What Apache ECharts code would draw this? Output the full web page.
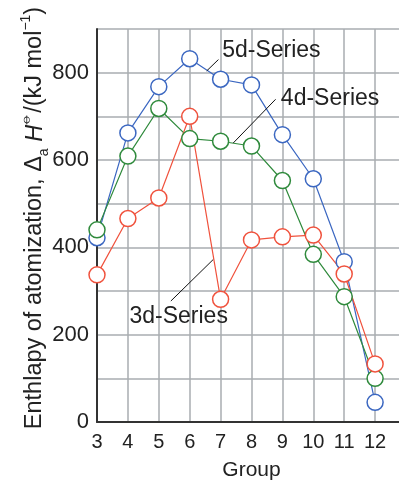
<!DOCTYPE html>
<html>
<head>
<meta charset="utf-8">
<script src="https://cdn.jsdelivr.net/npm/echarts@6/dist/echarts.min.js"></script>
<style>
html,body{margin:0;padding:0;background:#fff;}
#chart{width:399px;height:480px;}
</style>
</head>
<body>
<div id="chart"></div>
<script>
var groups = [3, 4, 5, 6, 7, 8, 9, 10, 11, 12];
var series5d = [422, 662, 768, 832, 785, 772, 658, 557, 367, 45];
var series4d = [440, 609, 718, 649, 643, 632, 553, 384, 287, 100];
var series3d = [337, 466, 513, 700, 281, 417, 424, 428, 339, 133];
var seriesNames = ['5d-Series', '4d-Series', '3d-Series'];
var yTickLabels = [0, 200, 400, 600, 800];

var FONT = "'Liberation Sans', Arial, sans-serif";
var colors = {'5d-Series': '#3b67c1', '4d-Series': '#2f8a3c', '3d-Series': '#f0523d'};

function pairs(vals) { return groups.map(function (g, i) { return [g, vals[i]]; }); }

function mk(name, vals) {
  var c = colors[name];
  return {
    type: 'line', name: name, data: pairs(vals),
    symbol: 'circle', symbolSize: 16,
    lineStyle: {color: c, width: 1.2},
    itemStyle: {color: '#fff', borderColor: c, borderWidth: 1.5},
    emphasis: {disabled: true}, silent: true
  };
}

// annotation anchors in data space: [text, leaderFrom, leaderTo, textPos]
var annotations = [
  ['5d-Series', [6.55, 804], [6.93, 830], [7.05, 850]],
  ['4d-Series', [7.41, 639], [8.78, 739], [8.95, 740]],
  ['3d-Series', [5.39, 277], [6.76, 372], [4.05, 242]]
];

var chart = echarts.init(document.getElementById('chart'), null, {renderer: 'canvas'});
chart.setOption({
  animation: false,
  backgroundColor: '#fff',
  textStyle: {fontFamily: FONT},
  grid: {left: 97, right: -7, top: 29, bottom: 58, containLabel: false, outerBoundsMode: 'none'},
  xAxis: {
    type: 'value', min: 3, max: 13, interval: 1,
    axisLine: {show: true, lineStyle: {color: '#333', width: 2}},
    axisTick: {show: false},
    axisLabel: {fontSize: 20, color: '#222', margin: 10, fontFamily: FONT,
      formatter: function (v) { return groups.indexOf(v) >= 0 ? String(v) : ''; }},
    splitLine: {show: true, lineStyle: {color: '#a8acb0', width: 1.5}},
    name: 'Group', nameLocation: 'middle', nameGap: 38,
    nameTextStyle: {fontSize: 21, color: '#222', fontFamily: FONT}
  },
  yAxis: {
    type: 'value', min: 0, max: 900, interval: 100,
    axisLine: {show: true, lineStyle: {color: '#333', width: 2}},
    axisTick: {show: false},
    axisLabel: {fontSize: 22, color: '#222', margin: 8, fontFamily: FONT,
      formatter: function (v) { return yTickLabels.indexOf(v) >= 0 ? String(v) : ''; }},
    splitLine: {show: true, lineStyle: {color: '#a8acb0', width: 1.5}}
  },
  series: [mk(seriesNames[0], series5d), mk(seriesNames[1], series4d), mk(seriesNames[2], series3d)]
});

var graphics = [];
annotations.forEach(function (a) {
  var p1 = chart.convertToPixel({gridIndex: 0}, a[1]);
  var p2 = chart.convertToPixel({gridIndex: 0}, a[2]);
  var pt = chart.convertToPixel({gridIndex: 0}, a[3]);
  graphics.push({type: 'line', shape: {x1: p1[0], y1: p1[1], x2: p2[0], y2: p2[1]},
    style: {stroke: '#111', lineWidth: 1}, z: 100, silent: true});
  graphics.push({type: 'text', x: pt[0], y: pt[1], z: 100, silent: true,
    style: {text: a[0], fontSize: 23, fontFamily: FONT, fill: '#222',
      textAlign: 'left', textVerticalAlign: 'middle'}});
});
graphics.push({
  type: 'text', x: 35, y: 218, rotation: Math.PI / 2, z: 100, silent: true,
  style: {
    text: '{n|Enthlapy of atomization, Δ}{sub|a}{i| H}{sup|⦵}{n|/(kJ mol}{sup|−1}{n|)}',
    textAlign: 'center', textVerticalAlign: 'middle', fill: '#222', fontFamily: FONT,
    rich: {
      n: {fontSize: 23.5, lineHeight: 32, verticalAlign: 'middle', fontFamily: FONT, fill: '#222'},
      i: {fontSize: 23.5, lineHeight: 32, verticalAlign: 'middle', fontStyle: 'italic', fontFamily: FONT, fill: '#222'},
      sub: {fontSize: 14, lineHeight: 32, verticalAlign: 'bottom', fontFamily: FONT, fill: '#222'},
      sup: {fontSize: 14, lineHeight: 32, verticalAlign: 'top', fontFamily: FONT, fill: '#222'}
    }
  }
});
chart.setOption({graphic: graphics});
</script>
</body>
</html>
